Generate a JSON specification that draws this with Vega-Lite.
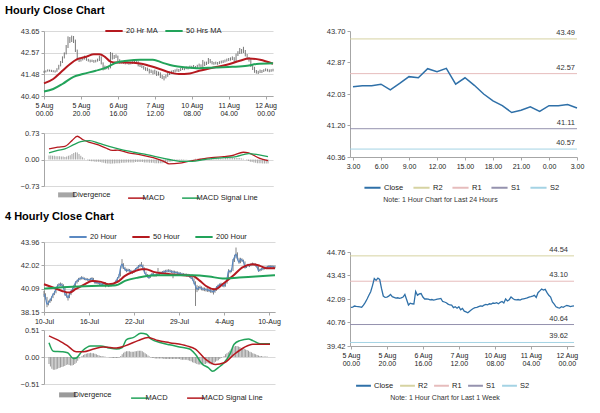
{
"$schema": "https://vega.github.io/schema/vega-lite/v6.json",
"padding": 5,
"background": "white",
"config": {
 "font": "Liberation Sans",
 "view": {"stroke": null},
 "axis": {"labelFontSize": 7.5, "labelColor": "#333", "domainColor": "#a6a6a6", "tickColor": "#a6a6a6", "gridColor": "#d9d9d9", "tickSize": 3, "labelPadding": 2, "labelFont": "Liberation Sans", "labelOverlap": false},
 "axisX": {"labelFontSize": 7, "labelOverlap": false, "labelFlush": false, "labelColor": "#222"},
 "legend": {"labelFontSize": 7.5, "labelColor": "#222", "symbolType": "stroke", "symbolStrokeWidth": 2, "symbolSize": 300, "columnPadding": 10, "labelOffset": 2, "orient": "none", "direction": "horizontal", "labelFont": "Liberation Sans"}
},
"datasets": {
 "h1": [
{"i":0,"c":41.61,"h":41.66,"l":41.56,"d":0.11},{"i":1,"c":41.63,"h":41.68,"l":41.58,"d":0.11},{"i":2,"c":41.69,"h":41.73,"l":41.62,"d":0.10},{"i":3,"c":41.67,"h":41.72,"l":41.62,"d":0.10},{"i":4,"c":41.66,"h":41.71,"l":41.60,"d":0.09},{"i":5,"c":41.64,"h":41.69,"l":41.59,"d":0.09},{"i":6,"c":41.62,"h":41.68,"l":41.57,"d":0.09},{"i":7,"c":41.74,"h":41.79,"l":41.61,"d":0.08},{"i":8,"c":41.90,"h":41.96,"l":41.72,"d":0.08},{"i":9,"c":42.09,"h":42.15,"l":41.88,"d":0.07},
{"i":10,"c":42.30,"h":42.38,"l":42.05,"d":0.08},{"i":11,"c":42.50,"h":42.58,"l":42.28,"d":0.10},{"i":12,"c":42.85,"h":42.95,"l":42.48,"d":0.12},{"i":13,"c":43.25,"h":43.38,"l":42.80,"d":0.15},{"i":14,"c":43.15,"h":43.35,"l":43.05,"d":0.18},{"i":15,"c":43.28,"h":43.42,"l":43.10,"d":0.20},{"i":16,"c":43.20,"h":43.40,"l":43.05,"d":0.19},{"i":17,"c":42.69,"h":43.22,"l":42.60,"d":0.15},{"i":18,"c":42.26,"h":42.72,"l":42.18,"d":0.10},{"i":19,"c":42.18,"h":42.32,"l":42.10,"d":0.06},
{"i":20,"c":42.20,"h":42.28,"l":42.12,"d":0.03},{"i":21,"c":42.25,"h":42.33,"l":42.18,"d":0.00},{"i":22,"c":42.35,"h":42.42,"l":42.22,"d":-0.02},{"i":23,"c":42.22,"h":42.38,"l":42.16,"d":-0.04},{"i":24,"c":42.18,"h":42.26,"l":42.12,"d":-0.05},{"i":25,"c":42.14,"h":42.22,"l":42.08,"d":-0.05},{"i":26,"c":42.16,"h":42.22,"l":42.10,"d":-0.06},{"i":27,"c":42.13,"h":42.20,"l":42.06,"d":-0.06},{"i":28,"c":42.15,"h":42.21,"l":42.08,"d":-0.06},{"i":29,"c":42.20,"h":42.27,"l":42.12,"d":-0.07},
{"i":30,"c":42.35,"h":42.42,"l":42.15,"d":-0.08},{"i":31,"c":42.05,"h":42.38,"l":41.98,"d":-0.09},{"i":32,"c":41.75,"h":42.08,"l":41.68,"d":-0.10},{"i":33,"c":41.85,"h":41.92,"l":41.70,"d":-0.11},{"i":34,"c":41.82,"h":41.90,"l":41.74,"d":-0.11},{"i":35,"c":41.80,"h":41.88,"l":41.72,"d":-0.12},{"i":36,"c":42.52,"h":42.60,"l":41.78,"d":-0.11},{"i":37,"c":42.30,"h":42.56,"l":42.22,"d":-0.11},{"i":38,"c":42.38,"h":42.45,"l":42.25,"d":-0.10},{"i":39,"c":42.40,"h":42.48,"l":42.30,"d":-0.10},
{"i":40,"c":42.20,"h":42.42,"l":42.12,"d":-0.10},{"i":41,"c":42.09,"h":42.24,"l":42.02,"d":-0.09},{"i":42,"c":42.10,"h":42.16,"l":42.03,"d":-0.09},{"i":43,"c":42.08,"h":42.15,"l":42.01,"d":-0.09},{"i":44,"c":42.04,"h":42.12,"l":41.98,"d":-0.08},{"i":45,"c":42.06,"h":42.12,"l":41.99,"d":-0.08},{"i":46,"c":42.03,"h":42.10,"l":41.96,"d":-0.08},{"i":47,"c":42.05,"h":42.11,"l":41.98,"d":-0.08},{"i":48,"c":42.08,"h":42.14,"l":42.00,"d":-0.08},{"i":49,"c":42.10,"h":42.17,"l":42.03,"d":-0.07},
{"i":50,"c":42.12,"h":42.18,"l":42.04,"d":-0.07},{"i":51,"c":41.95,"h":42.14,"l":41.88,"d":-0.07},{"i":52,"c":41.92,"h":42.00,"l":41.85,"d":-0.07},{"i":53,"c":41.88,"h":41.96,"l":41.80,"d":-0.07},{"i":54,"c":41.80,"h":41.90,"l":41.72,"d":-0.08},{"i":55,"c":41.75,"h":41.84,"l":41.66,"d":-0.08},{"i":56,"c":41.74,"h":41.82,"l":41.64,"d":-0.08},{"i":57,"c":41.60,"h":41.76,"l":41.52,"d":-0.09},{"i":58,"c":41.65,"h":41.72,"l":41.55,"d":-0.09},{"i":59,"c":41.57,"h":41.68,"l":41.48,"d":-0.09},
{"i":60,"c":41.65,"h":41.72,"l":41.50,"d":-0.10},{"i":61,"c":41.48,"h":41.66,"l":41.40,"d":-0.10},{"i":62,"c":41.55,"h":41.62,"l":41.42,"d":-0.10},{"i":63,"c":41.40,"h":41.58,"l":41.30,"d":-0.10},{"i":64,"c":41.36,"h":41.45,"l":41.25,"d":-0.10},{"i":65,"c":41.31,"h":41.40,"l":41.18,"d":-0.09},{"i":66,"c":41.40,"h":41.47,"l":41.28,"d":-0.09},{"i":67,"c":41.48,"h":41.55,"l":41.36,"d":-0.08},{"i":68,"c":41.55,"h":41.62,"l":41.45,"d":-0.07},{"i":69,"c":41.60,"h":41.67,"l":41.50,"d":-0.06},
{"i":70,"c":41.62,"h":41.70,"l":41.54,"d":-0.05},{"i":71,"c":41.66,"h":41.73,"l":41.58,"d":-0.04},{"i":72,"c":41.70,"h":41.77,"l":41.62,"d":-0.04},{"i":73,"c":41.68,"h":41.75,"l":41.60,"d":-0.03},{"i":74,"c":41.74,"h":41.80,"l":41.65,"d":-0.03},{"i":75,"c":41.78,"h":41.85,"l":41.70,"d":-0.02},{"i":76,"c":41.76,"h":41.83,"l":41.69,"d":-0.02},{"i":77,"c":41.82,"h":41.88,"l":41.74,"d":-0.01},{"i":78,"c":41.80,"h":41.87,"l":41.73,"d":-0.01},{"i":79,"c":41.86,"h":41.92,"l":41.78,"d":0.00},
{"i":80,"c":41.84,"h":41.91,"l":41.77,"d":0.00},{"i":81,"c":41.88,"h":41.95,"l":41.80,"d":0.01},{"i":82,"c":41.82,"h":41.90,"l":41.75,"d":0.01},{"i":83,"c":41.90,"h":41.96,"l":41.80,"d":0.02},{"i":84,"c":41.95,"h":42.02,"l":41.86,"d":0.02},{"i":85,"c":41.86,"h":41.98,"l":41.78,"d":0.02},{"i":86,"c":42.09,"h":42.20,"l":41.84,"d":0.03},{"i":87,"c":41.98,"h":42.12,"l":41.90,"d":0.03},{"i":88,"c":42.05,"h":42.12,"l":41.95,"d":0.03},{"i":89,"c":42.21,"h":42.30,"l":42.00,"d":0.03},
{"i":90,"c":42.12,"h":42.25,"l":42.04,"d":0.03},{"i":91,"c":42.05,"h":42.15,"l":41.98,"d":0.03},{"i":92,"c":42.04,"h":42.10,"l":41.96,"d":0.03},{"i":93,"c":42.06,"h":42.12,"l":41.98,"d":0.03},{"i":94,"c":42.03,"h":42.10,"l":41.96,"d":0.03},{"i":95,"c":42.08,"h":42.14,"l":42.00,"d":0.03},{"i":96,"c":42.10,"h":42.17,"l":42.03,"d":0.03},{"i":97,"c":42.12,"h":42.19,"l":42.05,"d":0.03},{"i":98,"c":42.15,"h":42.22,"l":42.08,"d":0.03},{"i":99,"c":42.20,"h":42.27,"l":42.12,"d":0.03},
{"i":100,"c":42.22,"h":42.30,"l":42.15,"d":0.04},{"i":101,"c":42.25,"h":42.33,"l":42.17,"d":0.04},{"i":102,"c":42.30,"h":42.38,"l":42.20,"d":0.04},{"i":103,"c":42.18,"h":42.34,"l":42.10,"d":0.04},{"i":104,"c":42.45,"h":42.52,"l":42.15,"d":0.04},{"i":105,"c":42.55,"h":42.64,"l":42.40,"d":0.04},{"i":106,"c":42.66,"h":42.80,"l":42.50,"d":0.04},{"i":107,"c":42.60,"h":42.75,"l":42.52,"d":0.04},{"i":108,"c":42.64,"h":42.86,"l":42.55,"d":0.04},{"i":109,"c":42.45,"h":42.70,"l":42.38,"d":0.03},
{"i":110,"c":42.30,"h":42.50,"l":42.22,"d":0.02},{"i":111,"c":42.20,"h":42.35,"l":42.12,"d":0.00},{"i":112,"c":41.92,"h":42.25,"l":41.85,"d":-0.02},{"i":113,"c":41.80,"h":41.98,"l":41.70,"d":-0.04},{"i":114,"c":41.65,"h":41.86,"l":41.56,"d":-0.06},{"i":115,"c":41.60,"h":41.70,"l":41.52,"d":-0.07},{"i":116,"c":41.57,"h":41.66,"l":41.50,"d":-0.08},{"i":117,"c":41.65,"h":41.72,"l":41.55,"d":-0.09},{"i":118,"c":41.62,"h":41.70,"l":41.55,"d":-0.10},{"i":119,"c":41.68,"h":41.74,"l":41.60,"d":-0.10},
{"i":120,"c":41.72,"h":41.78,"l":41.64,"d":-0.10},{"i":121,"c":41.70,"h":41.76,"l":41.62,"d":-0.11},{"i":122,"c":41.66,"h":41.73,"l":41.59,"d":-0.11},{"i":123,"c":41.68,"h":41.74,"l":41.61,"d":-0.11},{"i":124,"c":41.70,"h":41.76,"l":41.63,"d":-0.11}
 ],
 "ma1": [
{"i":0,"v":41.03,"s":"20 Hr MA"},{"i":5,"v":41.25,"s":"20 Hr MA"},{"i":9,"v":41.58,"s":"20 Hr MA"},{"i":14,"v":41.99,"s":"20 Hr MA"},{"i":18,"v":42.24,"s":"20 Hr MA"},{"i":23,"v":42.37,"s":"20 Hr MA"},{"i":27,"v":42.49,"s":"20 Hr MA"},{"i":30,"v":42.49,"s":"20 Hr MA"},{"i":33,"v":42.36,"s":"20 Hr MA"},{"i":36,"v":42.12,"s":"20 Hr MA"},{"i":39,"v":42.07,"s":"20 Hr MA"},{"i":45,"v":42.07,"s":"20 Hr MA"},{"i":52,"v":42.03,"s":"20 Hr MA"},{"i":57,"v":41.91,"s":"20 Hr MA"},{"i":63,"v":41.74,"s":"20 Hr MA"},{"i":68,"v":41.58,"s":"20 Hr MA"},{"i":73,"v":41.50,"s":"20 Hr MA"},{"i":79,"v":41.53,"s":"20 Hr MA"},{"i":84,"v":41.66,"s":"20 Hr MA"},{"i":92,"v":41.83,"s":"20 Hr MA"},{"i":99,"v":41.96,"s":"20 Hr MA"},{"i":106,"v":42.16,"s":"20 Hr MA"},{"i":111,"v":42.27,"s":"20 Hr MA"},{"i":117,"v":42.21,"s":"20 Hr MA"},{"i":124,"v":42.01,"s":"20 Hr MA"},
{"i":0,"v":40.62,"s":"50 Hrs MA"},{"i":5,"v":40.75,"s":"50 Hrs MA"},{"i":10,"v":41.00,"s":"50 Hrs MA"},{"i":16,"v":41.36,"s":"50 Hrs MA"},{"i":21,"v":41.50,"s":"50 Hrs MA"},{"i":28,"v":41.66,"s":"50 Hrs MA"},{"i":34,"v":41.83,"s":"50 Hrs MA"},{"i":39,"v":42.06,"s":"50 Hrs MA"},{"i":45,"v":42.16,"s":"50 Hrs MA"},{"i":52,"v":42.21,"s":"50 Hrs MA"},{"i":59,"v":42.21,"s":"50 Hrs MA"},{"i":64,"v":42.07,"s":"50 Hrs MA"},{"i":70,"v":41.91,"s":"50 Hrs MA"},{"i":77,"v":41.83,"s":"50 Hrs MA"},{"i":84,"v":41.79,"s":"50 Hrs MA"},{"i":92,"v":41.83,"s":"50 Hrs MA"},{"i":102,"v":41.86,"s":"50 Hrs MA"},{"i":110,"v":41.91,"s":"50 Hrs MA"},{"i":115,"v":42.00,"s":"50 Hrs MA"},{"i":124,"v":42.04,"s":"50 Hrs MA"}
 ],
 "mc1": [
{"i":0,"v":0.29,"s":"MACD"},{"i":5,"v":0.34,"s":"MACD"},{"i":9,"v":0.36,"s":"MACD"},{"i":13,"v":0.52,"s":"MACD"},{"i":16,"v":0.64,"s":"MACD"},{"i":19,"v":0.55,"s":"MACD"},{"i":23,"v":0.47,"s":"MACD"},{"i":28,"v":0.40,"s":"MACD"},{"i":32,"v":0.32,"s":"MACD"},{"i":36,"v":0.25,"s":"MACD"},{"i":39,"v":0.26,"s":"MACD"},{"i":45,"v":0.18,"s":"MACD"},{"i":52,"v":0.13,"s":"MACD"},{"i":59,"v":0.05,"s":"MACD"},{"i":65,"v":-0.05,"s":"MACD"},{"i":68,"v":-0.12,"s":"MACD"},{"i":74,"v":-0.10,"s":"MACD"},{"i":79,"v":-0.05,"s":"MACD"},{"i":84,"v":-0.01,"s":"MACD"},{"i":92,"v":0.05,"s":"MACD"},{"i":99,"v":0.08,"s":"MACD"},{"i":104,"v":0.11,"s":"MACD"},{"i":110,"v":0.20,"s":"MACD"},{"i":113,"v":0.18,"s":"MACD"},{"i":119,"v":0.04,"s":"MACD"},{"i":124,"v":-0.03,"s":"MACD"},
{"i":0,"v":0.18,"s":"MACD Signal Line"},{"i":5,"v":0.25,"s":"MACD Signal Line"},{"i":9,"v":0.29,"s":"MACD Signal Line"},{"i":14,"v":0.41,"s":"MACD Signal Line"},{"i":18,"v":0.49,"s":"MACD Signal Line"},{"i":23,"v":0.52,"s":"MACD Signal Line"},{"i":28,"v":0.45,"s":"MACD Signal Line"},{"i":34,"v":0.36,"s":"MACD Signal Line"},{"i":41,"v":0.27,"s":"MACD Signal Line"},{"i":48,"v":0.20,"s":"MACD Signal Line"},{"i":56,"v":0.13,"s":"MACD Signal Line"},{"i":63,"v":0.05,"s":"MACD Signal Line"},{"i":68,"v":0.00,"s":"MACD Signal Line"},{"i":74,"v":-0.05,"s":"MACD Signal Line"},{"i":81,"v":-0.05,"s":"MACD Signal Line"},{"i":88,"v":0.00,"s":"MACD Signal Line"},{"i":99,"v":0.05,"s":"MACD Signal Line"},{"i":106,"v":0.08,"s":"MACD Signal Line"},{"i":113,"v":0.16,"s":"MACD Signal Line"},{"i":119,"v":0.13,"s":"MACD Signal Line"},{"i":124,"v":0.08,"s":"MACD Signal Line"}
 ],
 "d24": [
{"i":0,"c":42.22},{"i":1,"c":42.25},{"i":2,"c":42.25},{"i":3,"c":42.29},{"i":4,"c":42.14},{"i":5,"c":42.31},{"i":6,"c":42.49},{"i":7,"c":42.46},{"i":8,"c":42.70},{"i":9,"c":42.62},{"i":10,"c":42.71},{"i":11,"c":42.29},{"i":12,"c":42.46},{"i":13,"c":42.26},{"i":14,"c":42.03},{"i":15,"c":41.85},{"i":16,"c":41.72},{"i":17,"c":41.54},{"i":18,"c":41.60},{"i":19,"c":41.69},{"i":20,"c":41.57},{"i":21,"c":41.72},{"i":22,"c":41.72},{"i":23,"c":41.75},{"i":24,"c":41.66}
 ],
 "lv24": [{"s":"R2","v":43.49},{"s":"R1","v":42.57},{"s":"S1","v":41.11},{"s":"S2","v":40.57}],
 "lv1w": [{"s":"R2","v":44.54},{"s":"R1","v":43.10},{"s":"S1","v":40.64},{"s":"S2","v":39.62}],
 "b4": [
{"i":0,"c":39.62,"h":39.90,"l":39.40,"d":-0.13},{"i":1,"c":39.34,"h":39.70,"l":39.20,"d":-0.18},{"i":2,"c":38.79,"h":39.40,"l":38.55,"d":-0.22},{"i":3,"c":38.93,"h":39.10,"l":38.70,"d":-0.24},{"i":4,"c":39.10,"h":39.25,"l":38.90,"d":-0.24},{"i":5,"c":39.34,"h":39.45,"l":39.05,"d":-0.23},{"i":6,"c":39.60,"h":39.70,"l":39.30,"d":-0.22},{"i":7,"c":39.76,"h":39.90,"l":39.55,"d":-0.21},{"i":8,"c":40.05,"h":40.15,"l":39.70,"d":-0.20},{"i":9,"c":40.32,"h":40.45,"l":40.00,"d":-0.19},
{"i":10,"c":40.40,"h":40.55,"l":40.25,"d":-0.18},{"i":11,"c":40.45,"h":40.60,"l":40.30,"d":-0.17},{"i":12,"c":40.38,"h":40.55,"l":40.25,"d":-0.15},{"i":13,"c":40.20,"h":40.45,"l":40.10,"d":-0.14},{"i":14,"c":39.62,"h":40.25,"l":39.50,"d":-0.15},{"i":15,"c":39.50,"h":39.75,"l":39.35,"d":-0.16},{"i":16,"c":39.34,"h":39.60,"l":39.10,"d":-0.16},{"i":17,"c":39.60,"h":39.75,"l":39.30,"d":-0.15},{"i":18,"c":39.85,"h":39.95,"l":39.55,"d":-0.13},{"i":19,"c":40.04,"h":40.15,"l":39.80,"d":-0.11},
{"i":20,"c":40.30,"h":40.40,"l":40.00,"d":-0.07},{"i":21,"c":40.59,"h":40.70,"l":40.25,"d":-0.03},{"i":22,"c":40.70,"h":40.82,"l":40.50,"d":0.00},{"i":23,"c":40.87,"h":40.98,"l":40.65,"d":0.02},{"i":24,"c":40.90,"h":41.02,"l":40.78,"d":0.04},{"i":25,"c":41.01,"h":41.12,"l":40.85,"d":0.05},{"i":26,"c":40.95,"h":41.08,"l":40.85,"d":0.06},{"i":27,"c":40.90,"h":41.02,"l":40.80,"d":0.07},{"i":28,"c":40.87,"h":40.98,"l":40.76,"d":0.07},{"i":29,"c":40.85,"h":40.95,"l":40.74,"d":0.08},
{"i":30,"c":40.82,"h":40.92,"l":40.72,"d":0.07},{"i":31,"c":40.88,"h":40.98,"l":40.76,"d":0.07},{"i":32,"c":40.93,"h":41.04,"l":40.80,"d":0.06},{"i":33,"c":40.75,"h":40.98,"l":40.65,"d":0.05},{"i":34,"c":40.59,"h":40.80,"l":40.48,"d":0.04},{"i":35,"c":40.62,"h":40.72,"l":40.50,"d":0.03},{"i":36,"c":40.55,"h":40.68,"l":40.45,"d":0.02},{"i":37,"c":40.50,"h":40.62,"l":40.40,"d":0.02},{"i":38,"c":40.48,"h":40.58,"l":40.36,"d":0.01},{"i":39,"c":40.45,"h":40.56,"l":40.34,"d":0.01},
{"i":40,"c":40.50,"h":40.60,"l":40.40,"d":0.00},{"i":41,"c":40.52,"h":40.62,"l":40.20,"d":0.00},{"i":42,"c":40.40,"h":40.55,"l":40.30,"d":-0.01},{"i":43,"c":40.32,"h":40.45,"l":40.22,"d":-0.01},{"i":44,"c":40.35,"h":40.45,"l":40.24,"d":-0.02},{"i":45,"c":40.38,"h":40.48,"l":40.28,"d":-0.02},{"i":46,"c":40.45,"h":40.55,"l":40.34,"d":-0.02},{"i":47,"c":40.55,"h":40.65,"l":40.44,"d":-0.02},{"i":48,"c":40.70,"h":40.82,"l":40.58,"d":-0.02},{"i":49,"c":40.95,"h":41.05,"l":40.68,"d":-0.01},
{"i":50,"c":41.15,"h":41.30,"l":40.92,"d":0.02},{"i":51,"c":41.80,"h":41.95,"l":41.10,"d":0.05},{"i":52,"c":42.12,"h":42.54,"l":41.75,"d":0.08},{"i":53,"c":41.84,"h":42.20,"l":41.72,"d":0.10},{"i":54,"c":41.70,"h":41.90,"l":41.58,"d":0.11},{"i":55,"c":41.57,"h":41.75,"l":41.45,"d":0.11},{"i":56,"c":41.62,"h":41.75,"l":41.50,"d":0.11},{"i":57,"c":41.60,"h":41.72,"l":41.48,"d":0.10},{"i":58,"c":41.50,"h":41.65,"l":41.38,"d":0.10},{"i":59,"c":41.43,"h":41.58,"l":41.32,"d":0.10},
{"i":60,"c":41.55,"h":41.65,"l":41.40,"d":0.11},{"i":61,"c":41.70,"h":41.80,"l":41.52,"d":0.11},{"i":62,"c":41.80,"h":41.90,"l":41.65,"d":0.12},{"i":63,"c":41.93,"h":42.05,"l":41.75,"d":0.12},{"i":64,"c":42.00,"h":42.15,"l":41.85,"d":0.12},{"i":65,"c":42.04,"h":42.30,"l":41.90,"d":0.11},{"i":66,"c":41.80,"h":42.10,"l":41.70,"d":0.09},{"i":67,"c":41.43,"h":41.85,"l":41.35,"d":0.07},{"i":68,"c":41.25,"h":41.50,"l":41.15,"d":0.05},{"i":69,"c":41.10,"h":41.30,"l":41.00,"d":0.03},
{"i":70,"c":41.01,"h":41.15,"l":40.90,"d":0.01},{"i":71,"c":41.15,"h":41.25,"l":40.98,"d":-0.01},{"i":72,"c":41.29,"h":41.40,"l":41.15,"d":-0.02},{"i":73,"c":41.25,"h":41.38,"l":41.12,"d":-0.02},{"i":74,"c":41.20,"h":41.32,"l":41.08,"d":-0.03},{"i":75,"c":41.22,"h":41.35,"l":41.10,"d":-0.03},{"i":76,"c":41.30,"h":41.80,"l":41.18,"d":-0.03},{"i":77,"c":41.35,"h":41.50,"l":41.22,"d":-0.03},{"i":78,"c":41.40,"h":41.52,"l":41.28,"d":-0.03},{"i":79,"c":41.43,"h":41.55,"l":41.30,"d":-0.03},
{"i":80,"c":41.48,"h":41.62,"l":41.35,"d":-0.04},{"i":81,"c":41.52,"h":41.65,"l":41.40,"d":-0.04},{"i":82,"c":41.55,"h":41.68,"l":41.42,"d":-0.04},{"i":83,"c":41.57,"h":41.70,"l":41.45,"d":-0.04},{"i":84,"c":41.55,"h":41.68,"l":41.42,"d":-0.04},{"i":85,"c":41.50,"h":41.62,"l":41.38,"d":-0.04},{"i":86,"c":41.48,"h":41.60,"l":40.95,"d":-0.04},{"i":87,"c":41.45,"h":41.58,"l":41.32,"d":-0.04},{"i":88,"c":41.43,"h":41.55,"l":41.30,"d":-0.04},{"i":89,"c":41.40,"h":41.52,"l":41.28,"d":-0.04},
{"i":90,"c":41.35,"h":41.48,"l":41.22,"d":-0.04},{"i":91,"c":41.32,"h":41.45,"l":41.20,"d":-0.04},{"i":92,"c":41.29,"h":41.40,"l":41.18,"d":-0.05},{"i":93,"c":41.27,"h":41.38,"l":41.15,"d":-0.05},{"i":94,"c":41.25,"h":41.36,"l":41.14,"d":-0.05},{"i":95,"c":41.22,"h":41.34,"l":41.10,"d":-0.05},{"i":96,"c":41.20,"h":41.32,"l":41.08,"d":-0.05},{"i":97,"c":41.10,"h":41.28,"l":41.00,"d":-0.06},{"i":98,"c":41.00,"h":41.20,"l":40.90,"d":-0.07},{"i":99,"c":40.87,"h":41.05,"l":40.75,"d":-0.08},
{"i":100,"c":40.60,"h":40.95,"l":40.45,"d":-0.10},{"i":101,"c":40.31,"h":40.70,"l":38.65,"d":-0.11},{"i":102,"c":40.04,"h":40.40,"l":39.80,"d":-0.12},{"i":103,"c":40.15,"h":40.30,"l":39.95,"d":-0.13},{"i":104,"c":40.20,"h":40.35,"l":40.05,"d":-0.14},{"i":105,"c":40.10,"h":40.28,"l":39.95,"d":-0.14},{"i":106,"c":40.05,"h":40.20,"l":39.90,"d":-0.14},{"i":107,"c":40.04,"h":40.18,"l":39.88,"d":-0.14},{"i":108,"c":40.00,"h":40.15,"l":39.85,"d":-0.13},{"i":109,"c":39.98,"h":40.12,"l":39.82,"d":-0.13},
{"i":110,"c":39.95,"h":40.10,"l":39.80,"d":-0.12},{"i":111,"c":39.90,"h":40.05,"l":39.75,"d":-0.12},{"i":112,"c":39.88,"h":40.00,"l":39.72,"d":-0.13},{"i":113,"c":39.82,"h":39.98,"l":39.60,"d":-0.14},{"i":114,"c":39.95,"h":40.10,"l":39.75,"d":-0.13},{"i":115,"c":40.20,"h":40.30,"l":39.90,"d":-0.11},{"i":116,"c":40.31,"h":40.42,"l":40.10,"d":-0.09},{"i":117,"c":40.40,"h":40.52,"l":40.25,"d":-0.07},{"i":118,"c":40.45,"h":40.58,"l":40.30,"d":-0.06},{"i":119,"c":40.38,"h":40.52,"l":40.25,"d":-0.04},
{"i":120,"c":40.31,"h":40.45,"l":40.20,"d":-0.02},{"i":121,"c":40.60,"h":40.72,"l":40.25,"d":0.00},{"i":122,"c":40.87,"h":41.00,"l":40.50,"d":0.02},{"i":123,"c":41.57,"h":41.70,"l":40.80,"d":0.05},{"i":124,"c":41.50,"h":41.65,"l":41.35,"d":0.07},{"i":125,"c":41.62,"h":41.75,"l":41.45,"d":0.09},{"i":126,"c":42.40,"h":42.55,"l":41.55,"d":0.12},{"i":127,"c":42.70,"h":42.90,"l":42.30,"d":0.15},{"i":128,"c":42.96,"h":43.50,"l":42.60,"d":0.18},{"i":129,"c":42.55,"h":43.10,"l":42.45,"d":0.20},
{"i":130,"c":42.26,"h":42.65,"l":42.15,"d":0.21},{"i":131,"c":42.54,"h":42.65,"l":42.20,"d":0.21},{"i":132,"c":42.45,"h":42.60,"l":42.30,"d":0.20},{"i":133,"c":42.32,"h":42.50,"l":42.20,"d":0.19},{"i":134,"c":41.85,"h":42.35,"l":41.75,"d":0.17},{"i":135,"c":41.95,"h":42.05,"l":41.80,"d":0.16},{"i":136,"c":42.05,"h":42.15,"l":41.90,"d":0.15},{"i":137,"c":42.00,"h":42.12,"l":41.88,"d":0.14},{"i":138,"c":42.08,"h":42.20,"l":41.95,"d":0.13},{"i":139,"c":42.12,"h":42.25,"l":42.00,"d":0.12},
{"i":140,"c":42.10,"h":42.22,"l":41.98,"d":0.10},{"i":141,"c":42.05,"h":42.18,"l":41.92,"d":0.09},{"i":142,"c":41.90,"h":42.10,"l":41.80,"d":0.07},{"i":143,"c":41.57,"h":41.95,"l":41.48,"d":0.06},{"i":144,"c":41.65,"h":41.75,"l":41.52,"d":0.05},{"i":145,"c":41.70,"h":41.80,"l":41.58,"d":0.04},{"i":146,"c":41.75,"h":41.85,"l":41.62,"d":0.03},{"i":147,"c":41.80,"h":41.90,"l":41.68,"d":0.02},{"i":148,"c":41.84,"h":41.95,"l":41.72,"d":0.02},{"i":149,"c":41.88,"h":41.98,"l":41.75,"d":0.01},
{"i":150,"c":41.93,"h":42.05,"l":41.80,"d":0.01},{"i":151,"c":41.90,"h":42.02,"l":41.78,"d":0.01},{"i":152,"c":41.92,"h":42.05,"l":41.80,"d":0.01},{"i":153,"c":41.88,"h":42.00,"l":41.76,"d":0.00},{"i":154,"c":41.90,"h":42.02,"l":41.78,"d":0.00}
 ],
 "ma4": [
{"i":0,"v":40.45,"s":"50 Hour"},{"i":6,"v":40.18,"s":"50 Hour"},{"i":12,"v":39.90,"s":"50 Hour"},{"i":17,"v":39.76,"s":"50 Hour"},{"i":21,"v":40.04,"s":"50 Hour"},{"i":27,"v":40.45,"s":"50 Hour"},{"i":32,"v":40.73,"s":"50 Hour"},{"i":38,"v":40.65,"s":"50 Hour"},{"i":43,"v":40.45,"s":"50 Hour"},{"i":49,"v":40.65,"s":"50 Hour"},{"i":54,"v":41.15,"s":"50 Hour"},{"i":60,"v":41.51,"s":"50 Hour"},{"i":65,"v":41.70,"s":"50 Hour"},{"i":68,"v":41.70,"s":"50 Hour"},{"i":73,"v":41.48,"s":"50 Hour"},{"i":84,"v":41.29,"s":"50 Hour"},{"i":93,"v":41.20,"s":"50 Hour"},{"i":99,"v":41.15,"s":"50 Hour"},{"i":104,"v":40.73,"s":"50 Hour"},{"i":108,"v":40.31,"s":"50 Hour"},{"i":114,"v":40.04,"s":"50 Hour"},{"i":119,"v":40.45,"s":"50 Hour"},{"i":126,"v":41.15,"s":"50 Hour"},{"i":132,"v":41.84,"s":"50 Hour"},{"i":139,"v":42.12,"s":"50 Hour"},{"i":144,"v":41.98,"s":"50 Hour"},{"i":148,"v":41.79,"s":"50 Hour"},{"i":154,"v":41.79,"s":"50 Hour"},
{"i":0,"v":40.09,"s":"200 Hour"},{"i":10,"v":40.18,"s":"200 Hour"},{"i":23,"v":40.26,"s":"200 Hour"},{"i":37,"v":40.32,"s":"200 Hour"},{"i":48,"v":40.37,"s":"200 Hour"},{"i":54,"v":40.73,"s":"200 Hour"},{"i":63,"v":41.01,"s":"200 Hour"},{"i":75,"v":41.20,"s":"200 Hour"},{"i":88,"v":41.20,"s":"200 Hour"},{"i":99,"v":41.20,"s":"200 Hour"},{"i":110,"v":41.10,"s":"200 Hour"},{"i":119,"v":40.93,"s":"200 Hour"},{"i":130,"v":41.01,"s":"200 Hour"},{"i":141,"v":41.10,"s":"200 Hour"},{"i":154,"v":41.20,"s":"200 Hour"}
 ],
 "mc4": [
{"i":0,"v":0.27,"s":"MACD"},{"i":3,"v":0.11,"s":"MACD"},{"i":9,"v":0.10,"s":"MACD"},{"i":13,"v":0.08,"s":"MACD"},{"i":17,"v":-0.03,"s":"MACD"},{"i":19,"v":-0.02,"s":"MACD"},{"i":23,"v":0.11,"s":"MACD"},{"i":29,"v":0.21,"s":"MACD"},{"i":36,"v":0.21,"s":"MACD"},{"i":42,"v":0.17,"s":"MACD"},{"i":47,"v":0.15,"s":"MACD"},{"i":51,"v":0.18,"s":"MACD"},{"i":54,"v":0.33,"s":"MACD"},{"i":59,"v":0.37,"s":"MACD"},{"i":64,"v":0.45,"s":"MACD"},{"i":68,"v":0.43,"s":"MACD"},{"i":71,"v":0.34,"s":"MACD"},{"i":78,"v":0.27,"s":"MACD"},{"i":84,"v":0.23,"s":"MACD"},{"i":91,"v":0.19,"s":"MACD"},{"i":98,"v":0.15,"s":"MACD"},{"i":102,"v":0.05,"s":"MACD"},{"i":107,"v":-0.14,"s":"MACD"},{"i":111,"v":-0.20,"s":"MACD"},{"i":114,"v":-0.27,"s":"MACD"},{"i":118,"v":-0.20,"s":"MACD"},{"i":122,"v":-0.11,"s":"MACD"},{"i":126,"v":0.05,"s":"MACD"},{"i":129,"v":0.24,"s":"MACD"},{"i":133,"v":0.31,"s":"MACD"},{"i":139,"v":0.34,"s":"MACD"},{"i":142,"v":0.31,"s":"MACD"},{"i":147,"v":0.25,"s":"MACD"},{"i":154,"v":0.25,"s":"MACD"},
{"i":0,"v":0.40,"s":"MACD Signal Line"},{"i":7,"v":0.31,"s":"MACD Signal Line"},{"i":13,"v":0.21,"s":"MACD Signal Line"},{"i":19,"v":0.10,"s":"MACD Signal Line"},{"i":24,"v":0.10,"s":"MACD Signal Line"},{"i":31,"v":0.15,"s":"MACD Signal Line"},{"i":38,"v":0.19,"s":"MACD Signal Line"},{"i":47,"v":0.17,"s":"MACD Signal Line"},{"i":53,"v":0.21,"s":"MACD Signal Line"},{"i":62,"v":0.31,"s":"MACD Signal Line"},{"i":69,"v":0.37,"s":"MACD Signal Line"},{"i":76,"v":0.31,"s":"MACD Signal Line"},{"i":84,"v":0.27,"s":"MACD Signal Line"},{"i":96,"v":0.21,"s":"MACD Signal Line"},{"i":102,"v":0.15,"s":"MACD Signal Line"},{"i":109,"v":-0.04,"s":"MACD Signal Line"},{"i":116,"v":-0.14,"s":"MACD Signal Line"},{"i":122,"v":-0.11,"s":"MACD Signal Line"},{"i":129,"v":0.05,"s":"MACD Signal Line"},{"i":136,"v":0.18,"s":"MACD Signal Line"},{"i":142,"v":0.24,"s":"MACD Signal Line"},{"i":154,"v":0.24,"s":"MACD Signal Line"}
 ]
},
"spacing": 45,
"resolve": {"scale": {"color": "independent"}},
"hconcat": [
 {
  "bounds": "flush",
  "spacing": 18,
  "resolve": {"scale": {"color": "independent"}},
  "vconcat": [
   {
    "width": 229, "height": 65,
    "title": {"text": "Hourly Close Chart", "anchor": "start", "frame": "group", "fontSize": 11, "fontWeight": "bold", "color": "#000", "offset": 5, "dx": -39, "font": "Liberation Sans"},
    "layer": [
     {"data": {"name": "h1"}, "mark": {"type": "rule", "color": "#555", "strokeWidth": 0.8},
      "encoding": {
       "x": {"field": "i", "type": "quantitative", "scale": {"domain": [0, 124], "nice": false, "zero": false}, "axis": {"title": null, "values": [0, 20, 40, 60, 80, 100, 120], "tickCount": 30, "grid": false, "labelOverlap": false, "labelFlush": false, "labelLineHeight": 8.5, "labelExpr": "[['5 Aug','00.00'],['5 Aug','20.00'],['6 Aug','16.00'],['7 Aug','12.00'],['10 Aug','08.00'],['11 Aug','04.00'],['12 Aug','00.00']][round(datum.value/20)]"}},
       "y": {"field": "l", "type": "quantitative", "scale": {"domain": [40.40, 43.65], "nice": false, "zero": false}, "axis": {"title": null, "values": [40.40, 41.48, 42.57, 43.65], "tickCount": 30, "format": ".2f", "grid": true}},
       "y2": {"field": "h"}
      }},
     {"data": {"name": "ma1"}, "mark": {"type": "line", "interpolate": "monotone", "strokeWidth": 2},
      "encoding": {
       "x": {"field": "i", "type": "quantitative"},
       "y": {"field": "v", "type": "quantitative"},
       "color": {"field": "s", "type": "nominal", "title": null, "scale": {"domain": ["20 Hr MA", "50 Hrs MA"], "range": ["#b5191f", "#22a35a"]}, "legend": {"title": null, "legendX": 60, "legendY": -10, "columnPadding": 3}}
      }}
    ]
   },
   {"width": 229, "height": 1, "data": {"values": []}, "mark": "point"},
   {
    "width": 229, "height": 53,
    "layer": [
     {"data": {"name": "h1"}, "mark": {"type": "bar", "width": 1},
      "encoding": {
       "x": {"field": "i", "type": "quantitative", "scale": {"domain": [0, 124], "nice": false, "zero": false}, "axis": {"title": null, "labels": false, "ticks": false, "grid": false, "domainColor": "#d9d9d9"}},
       "y": {"field": "d", "type": "quantitative", "scale": {"domain": [-0.73, 0.73], "nice": false}, "axis": {"title": null, "values": [-0.73, 0, 0.73], "tickCount": 30, "format": ".2f", "grid": true}},
       "y2": {"datum": 0},
       "color": {"datum": "Divergence", "type": "nominal", "title": null, "scale": {"domain": ["Divergence", "MACD", "MACD Signal Line"], "range": ["#a6a6a6", "#b5191f", "#22a35a"]},
         "legend": {"title": null, "symbolType": "stroke", "legendX": 19, "legendY": 58, "columnPadding": 14, "encode": {"symbols": {"update": {"strokeWidth": {"signal": "datum.label === 'Divergence' ? 5 : 1.5"}}}}}}
      }},
     {"data": {"name": "mc1"}, "mark": {"type": "line", "interpolate": "monotone", "strokeWidth": 1.3},
      "encoding": {
       "x": {"field": "i", "type": "quantitative"},
       "y": {"field": "v", "type": "quantitative"},
       "color": {"field": "s", "type": "nominal", "title": null}
      }}
    ]
   },
   {"width": 229, "height": 20, "data": {"values": []}, "mark": "point"},
   {
    "width": 231, "height": 70,
    "title": {"text": "4 Hourly Close Chart", "anchor": "start", "frame": "group", "fontSize": 11, "fontWeight": "bold", "color": "#000", "offset": 5, "dx": -39, "font": "Liberation Sans"},
    "layer": [
     {"data": {"name": "b4"}, "mark": {"type": "rule", "color": "#666", "strokeWidth": 0.8},
      "encoding": {
       "x": {"field": "i", "type": "quantitative", "scale": {"domain": [0, 154], "nice": false, "zero": false}, "axis": {"title": null, "values": [0, 30, 60, 90, 120, 150], "tickCount": 30, "grid": false, "labelOverlap": false, "labelFlush": false, "labelExpr": "['10-Jul','16-Jul','22-Jul','29-Jul','4-Aug','10-Aug'][round(datum.value/30)]"}},
       "y": {"field": "l", "type": "quantitative", "scale": {"domain": [38.15, 43.96], "nice": false, "zero": false}, "axis": {"title": null, "values": [38.15, 40.09, 42.02, 43.96], "tickCount": 30, "format": ".2f", "grid": true}},
       "y2": {"field": "h"}
      }},
     {"data": {"name": "b4"}, "mark": {"type": "line", "interpolate": "monotone", "strokeWidth": 1.2},
      "encoding": {
       "x": {"field": "i", "type": "quantitative"},
       "y": {"field": "c", "type": "quantitative"},
       "color": {"datum": "20 Hour", "type": "nominal", "title": null, "scale": {"domain": ["20 Hour", "50 Hour", "200 Hour"], "range": ["#5b89c2", "#b5191f", "#22a35a"]}, "legend": {"title": null, "legendX": 24, "legendY": -15, "columnPadding": 11}}
      }},
     {"data": {"name": "ma4"}, "mark": {"type": "line", "interpolate": "monotone", "strokeWidth": 2},
      "encoding": {
       "x": {"field": "i", "type": "quantitative"},
       "y": {"field": "v", "type": "quantitative"},
       "color": {"field": "s", "type": "nominal", "title": null}
      }}
    ]
   },
   {
    "width": 231, "height": 54,
    "layer": [
     {"data": {"name": "b4"}, "mark": {"type": "bar", "width": 1},
      "encoding": {
       "x": {"field": "i", "type": "quantitative", "scale": {"domain": [0, 154], "nice": false, "zero": false}, "axis": {"title": null, "labels": false, "ticks": false, "grid": false, "domain": false}},
       "y": {"field": "d", "type": "quantitative", "scale": {"domain": [-0.51, 0.51], "nice": false}, "axis": {"title": null, "values": [-0.51, 0, 0.51], "tickCount": 30, "format": ".2f", "grid": true}},
       "y2": {"datum": 0},
       "color": {"datum": "Divergence", "type": "nominal", "title": null, "scale": {"domain": ["Divergence", "MACD", "MACD Signal Line"], "range": ["#9a9a9a", "#22a35a", "#b5191f"]},
         "legend": {"title": null, "symbolType": "stroke", "legendX": 20, "legendY": 61, "columnPadding": 16, "encode": {"symbols": {"update": {"strokeWidth": {"signal": "datum.label === 'Divergence' ? 5 : 1.5"}}}}}}
      }},
     {"data": {"name": "mc4"}, "mark": {"type": "line", "interpolate": "monotone", "strokeWidth": 1.5},
      "encoding": {
       "x": {"field": "i", "type": "quantitative"},
       "y": {"field": "v", "type": "quantitative"},
       "color": {"field": "s", "type": "nominal", "title": null}
      }}
    ]
   }
  ]
 },
 {
  "bounds": "flush",
  "spacing": 10,
  "resolve": {"scale": {"color": "independent"}},
  "vconcat": [
   {
    "width": 227, "height": 126,
    "title": {"text": "Note: 1 Hour Chart for Last 24 Hours", "orient": "bottom", "anchor": "middle", "frame": "group", "fontSize": 7, "fontWeight": "normal", "color": "#333", "offset": 4, "dx": -23},
    "layer": [
     {"data": {"name": "lv24"}, "mark": {"type": "rule", "strokeWidth": 1},
      "encoding": {
       "y": {"field": "v", "type": "quantitative", "scale": {"domain": [40.36, 43.70], "nice": false, "zero": false}, "axis": {"title": null, "values": [40.36, 41.20, 42.03, 42.87, 43.70], "tickCount": 30, "format": ".2f", "grid": false}},
       "color": {"field": "s", "type": "nominal", "title": null, "scale": {"domain": ["Close", "R2", "R1", "S1", "S2"], "range": ["#2f70a8", "#d6d3a2", "#e6bcbc", "#9592ae", "#a4d3e4"]}, "legend": {"title": null, "legendX": 13, "legendY": 147, "symbolSize": 260, "columnPadding": 5}}
      }},
     {"data": {"name": "lv24"}, "mark": {"type": "text", "align": "right", "baseline": "bottom", "dx": -2, "dy": -2, "fontSize": 7.5, "color": "#333"},
      "encoding": {
       "x": {"datum": 24, "type": "quantitative"},
       "y": {"field": "v", "type": "quantitative"},
       "text": {"field": "v", "type": "quantitative", "format": ".2f"}
      }},
     {"data": {"name": "d24"}, "mark": {"type": "line", "strokeWidth": 1.5},
      "encoding": {
       "x": {"field": "i", "type": "quantitative", "scale": {"domain": [-0.32, 24], "nice": false, "zero": false}, "axis": {"title": null, "values": [0, 3, 6, 9, 12, 15, 18, 21, 24], "tickCount": 30, "grid": false, "labelOverlap": false, "labelFlush": false, "labelExpr": "format((datum.value+3)%24,'d')+'.00'"}},
       "y": {"field": "c", "type": "quantitative"},
       "color": {"datum": "Close", "type": "nominal", "title": null}
      }}
    ]
   },
   {"width": 227, "height": 75, "data": {"values": []}, "mark": "point"},
   {
    "width": 224, "height": 94,
    "title": {"text": "Note: 1 Hour Chart for Last 1 Week", "orient": "bottom", "anchor": "middle", "frame": "group", "fontSize": 7, "fontWeight": "normal", "color": "#333", "offset": 4, "dx": -17},
    "layer": [
     {"data": {"name": "lv1w"}, "mark": {"type": "rule", "strokeWidth": 1},
      "encoding": {
       "y": {"field": "v", "type": "quantitative", "scale": {"domain": [39.42, 44.76], "nice": false, "zero": false}, "axis": {"title": null, "values": [39.42, 40.76, 42.09, 43.43, 44.76], "tickCount": 30, "format": ".2f", "grid": false}},
       "color": {"field": "s", "type": "nominal", "title": null, "scale": {"domain": ["Close", "R2", "R1", "S1", "S2"], "range": ["#2f70a8", "#d6d3a2", "#e6bcbc", "#9592ae", "#a4d3e4"]}, "legend": {"title": null, "legendX": 5, "legendY": 125, "symbolSize": 220, "columnPadding": 2}}
      }},
     {"data": {"name": "lv1w"}, "mark": {"type": "text", "align": "right", "baseline": "bottom", "dx": -6, "dy": -2, "fontSize": 7.5, "color": "#333"},
      "encoding": {
       "x": {"datum": 124, "type": "quantitative"},
       "y": {"field": "v", "type": "quantitative"},
       "text": {"field": "v", "type": "quantitative", "format": ".2f"}
      }},
     {"data": {"name": "h1"}, "mark": {"type": "line", "strokeWidth": 1.3},
      "encoding": {
       "x": {"field": "i", "type": "quantitative", "scale": {"domain": [-0.5, 124], "nice": false, "zero": false}, "axis": {"title": null, "values": [0, 20, 40, 60, 80, 100, 120], "tickCount": 30, "grid": false, "labelOverlap": false, "labelFlush": false, "labelLineHeight": 8.5, "labelExpr": "[['5 Aug','00.00'],['5 Aug','20.00'],['6 Aug','16.00'],['7 Aug','12.00'],['10 Aug','08.00'],['11 Aug','04.00'],['12 Aug','00.00']][round(datum.value/20)]"}},
       "y": {"field": "c", "type": "quantitative"},
       "color": {"datum": "Close", "type": "nominal", "title": null}
      }}
    ]
   }
  ]
 }
]
}
